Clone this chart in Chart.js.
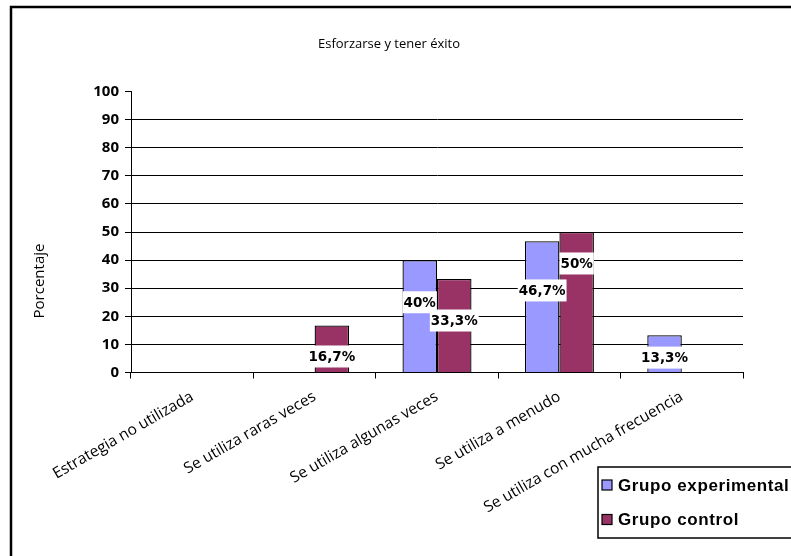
<!DOCTYPE html>
<html>
<head>
<meta charset="utf-8">
<script src="https://cdn.jsdelivr.net/npm/chart.js@4/dist/chart.umd.min.js"></script>
<style>
  html, body { margin: 0; padding: 0; background: #fff; }
  #wrap { width: 791px; height: 556px; position: relative; }
</style>
</head>
<body>
<div id="wrap"><canvas id="chart-1"></canvas></div>
<script>
// categorias y valores (%)
const categorias = [
  "Estrategia no utilizada",
  "Se utiliza raras veces",
  "Se utiliza algunas veces",
  "Se utiliza a menudo",
  "Se utiliza con mucha frecuencia"
];
const grupoExperimental = [0, 0, 40, 46.7, 13.3];
const grupoControl = [0, 16.7, 33.3, 50, 0];
const yTicks = [0, 10, 20, 30, 40, 50, 60, 70, 80, 90, 100];

// altura (en unidades del eje) donde va cada etiqueta de valor
const etiquetaExp = [null, null, 25, 29.2, 5.3];
const etiquetaCtrl = [null, 5.7, 18.5, 38.8, null];

const azul = "#9999FF";
const granate = "#993366";

function fmt(v) {
  return String(v).replace(".", ",") + "%";
}

const decor = {
  id: "decor",
  beforeDraw(chart) {
    const c = chart.ctx;
    c.save();
    c.fillStyle = "#fff";
    c.fillRect(0, 0, chart.width, chart.height);
    c.restore();
  },
  afterDraw(chart) {
    const c = chart.ctx;
    const y = chart.scales.y;
    c.save();

    // marco exterior
    c.strokeStyle = "#000";
    c.lineWidth = 2.5;
    c.beginPath();
    c.moveTo(11, 600);
    c.lineTo(11, 7);
    c.lineTo(820, 7);
    c.stroke();

    // titulo
    c.fillStyle = "#000";
    c.font = "13px 'Open Sans'";
    c.textAlign = "center";
    c.textBaseline = "middle";
    c.fillText("Esforzarse y tener éxito", 389, 44);

    // titulo del eje Y
    c.save();
    c.translate(40, 281);
    c.rotate(-Math.PI / 2);
    c.font = "15px 'Open Sans'";
    c.fillText("Porcentaje", 0, 0);
    c.restore();

    // etiquetas de valor
    c.font = "bold 13.5px 'DejaVu Sans'";
    const pos = [etiquetaExp, etiquetaCtrl];
    chart.data.datasets.forEach((ds, i) => {
      const meta = chart.getDatasetMeta(i);
      meta.data.forEach((bar, j) => {
        if (pos[i][j] == null) return;
        const txt = fmt(ds.data[j]);
        const w = c.measureText(txt).width + 2;
        const py = y.getPixelForValue(pos[i][j]);
        c.fillStyle = "#fff";
        c.fillRect(bar.x - w / 2, py - 11, w, 22);
        c.fillStyle = "#000";
        c.fillText(txt, bar.x, py + 1);
      });
    });

    // leyenda
    c.fillStyle = "#fff";
    c.fillRect(598, 467, 220, 71);
    c.strokeStyle = "#000";
    c.lineWidth = 1.5;
    c.strokeRect(598, 467, 220, 71);
    const items = [["Grupo experimental", azul, 485], ["Grupo control", granate, 519.5]];
    c.font = "bold 17px 'Liberation Sans'";
    c.letterSpacing = "0.6px";
    c.textAlign = "left";
    items.forEach(([t, col, yy]) => {
      c.fillStyle = col;
      c.fillRect(602, yy - 5, 10, 10);
      c.strokeStyle = "#000";
      c.lineWidth = 1.2;
      c.strokeRect(602, yy - 5, 10, 10);
      c.fillStyle = "#000";
      c.fillText(t, 618, yy + 1);
    });
    c.restore();
  }
};

const ctx1 = document.getElementById("chart-1").getContext("2d");
const myChart = new Chart(ctx1, {
  type: "bar",
  data: {
    labels: categorias,
    datasets: [
      {
        label: "Grupo experimental",
        data: grupoExperimental,
        backgroundColor: azul,
        borderColor: "#000",
        borderWidth: 1.3,
      },
      {
        label: "Grupo control",
        data: grupoControl,
        backgroundColor: granate,
        borderColor: "#000",
        borderWidth: 1.3,
      },
    ],
  },
  options: {
    responsive: true,
    maintainAspectRatio: false,
    animation: false,
    devicePixelRatio: 1,
    categoryPercentage: 0.564,
    barPercentage: 1,
    layout: { padding: { left: 20, top: 91.5, right: 48, bottom: 0 } },
    plugins: {
      legend: { display: false },
      title: { display: false },
      tooltip: { enabled: false },
    },
    scales: {
      x: {
        grid: {
          offset: true,
          drawOnChartArea: false,
          drawTicks: true,
          tickLength: 6,
          tickColor: "#000",
        },
        border: { color: "#000", width: 1 },
        ticks: {
          color: "#000",
          font: { family: "Open Sans", size: 15.5 },
          minRotation: 30,
          maxRotation: 30,
          padding: 9,
        },
        afterFit(scale) { scale.height = 183.5; },
      },
      y: {
        min: 0,
        max: 100,
        afterBuildTicks(scale) { scale.ticks = yTicks.map(v => ({ value: v })); },
        grid: {
          color: (c) => (c.tick && c.tick.value === 100 ? "rgba(0,0,0,0)" : "#000"),
          tickColor: "#000",
          tickLength: 6,
          lineWidth: 1,
        },
        border: { color: "#000", width: 1 },
        ticks: {
          color: "#000",
          font: { family: "Open Sans", size: 15, weight: "bold" },
          padding: 6,
        },
        afterFit(scale) { scale.width = 111; },
      },
    },
  },
  plugins: [decor],
});
</script>
</body>
</html>
